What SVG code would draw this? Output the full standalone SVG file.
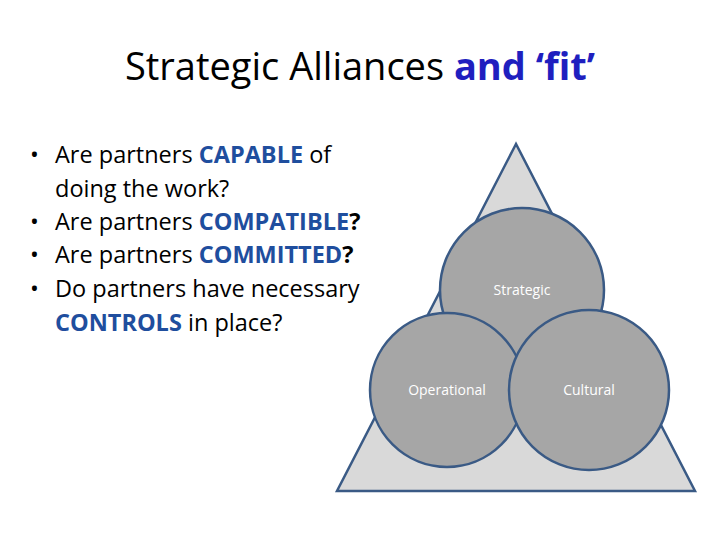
<svg xmlns="http://www.w3.org/2000/svg" width="720" height="540" viewBox="0 0 720 540">
<style>
.t{font-family:"Open Sans","Liberation Sans",sans-serif;}
.b{font-family:"Open Sans","Liberation Sans",sans-serif;font-size:23.5px;fill:#000;}
.h{fill:#1f4e9e;font-weight:bold;}
.c{fill:#a6a6a6;stroke:#3a5a85;stroke-width:2.5;}
.l{font-family:"Open Sans","Liberation Sans",sans-serif;font-size:14px;fill:#fff;text-anchor:middle;}
</style>
<rect width="720" height="540" fill="#fff"/>
<text class="t" x="360" y="80" font-size="38" text-anchor="middle">Strategic Alliances <tspan fill="#1f1fbf" font-weight="bold">and ‘fit’</tspan></text>
<g id="bullets">
<text class="b" x="30" y="163">•</text><text class="b" x="55" y="163">Are partners <tspan class="h">CAPABLE</tspan> of</text>
<text class="b" x="55" y="197">doing the work?</text>
<text class="b" x="30" y="230">•</text><text class="b" x="55" y="230">Are partners <tspan class="h">COMPATIBLE</tspan><tspan font-weight="bold">?</tspan></text>
<text class="b" x="30" y="263">•</text><text class="b" x="55" y="263">Are partners <tspan class="h">COMMITTED</tspan><tspan font-weight="bold">?</tspan></text>
<text class="b" x="30" y="297">•</text><text class="b" x="55" y="297">Do partners have necessary</text>
<text class="b" x="55" y="331"><tspan class="h">CONTROLS</tspan> in place?</text>
</g>
<g id="triangle"><polygon points="516,144 337,491 695,491" fill="#d9d9d9" stroke="#3a5a85" stroke-width="2.5"/></g>
<g id="strategic"><circle class="c" cx="522" cy="290" r="82"/><text class="l" x="522" y="295">Strategic</text></g>
<g id="operational"><circle class="c" cx="447" cy="390" r="77"/><text class="l" x="447" y="395">Operational</text></g>
<g id="cultural"><circle class="c" cx="589" cy="390" r="80"/><text class="l" x="589" y="395">Cultural</text></g>
<g id="connectors"/>
</svg>
